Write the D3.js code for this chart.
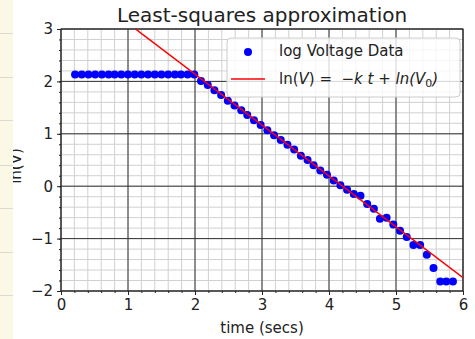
<!DOCTYPE html>
<html><head><meta charset="utf-8">
<script src="https://cdn.jsdelivr.net/npm/d3@7"></script>
<style>body{margin:0;background:#fff}svg{display:block}text{font-family:"DejaVu Sans",sans-serif}</style>
</head><body>
<script>
// ---- data ----
const timeSecs = [0.21,0.31,0.41,0.51,0.61,0.71,0.80,0.90,1.00,1.10,1.20,1.30,1.40,1.50,1.60,1.70,1.79,1.89,1.99,
  2.09,2.19,2.29,2.39,2.49,2.59,2.69,2.78,2.88,2.98,3.08,3.18,3.28,3.38,3.48,3.58,3.68,3.77,3.87,3.97,
  4.07,4.17,4.27,4.37,4.47,4.57,4.67,4.76,4.86,4.96,5.06,5.16,5.26,5.36,5.46,5.56,5.66,5.75,5.85];
const logVoltage = [2.13,2.13,2.13,2.13,2.13,2.13,2.13,2.13,2.13,2.13,2.13,2.13,2.13,2.13,2.13,2.13,2.13,2.13,2.13,
  2.01,1.93,1.83,1.74,1.63,1.54,1.45,1.36,1.26,1.17,1.07,0.97,0.88,0.79,0.70,0.58,0.50,0.40,0.30,0.22,
  0.11,0.02,-0.07,-0.15,-0.18,-0.34,-0.43,-0.62,-0.60,-0.73,-0.85,-0.97,-1.12,-1.12,-1.31,-1.56,-1.82,-1.82,-1.82];
const fitK = 0.971;      // slope of fitted line
const fitLnV0 = 4.08;    // intercept ln(V0)
const xTicks = [0,1,2,3,4,5,6];
const yTicks = [-2,-1,0,1,2,3];
const titleText = "Least-squares approximation";
const xLabel = "time (secs)";
const yLabel = "ln(V)";
const legendData = "log Voltage Data";

const W = 475, H = 339;
const svg = d3.select("body").append("svg").attr("width", W).attr("height", H);
const x = d3.scaleLinear().domain([0,6]).range([61,463]);
const y = d3.scaleLinear().domain([-2,3]).range([291,29]);

// y label (partially covered by left strip)
svg.append("text").attr("transform","translate(20.5,166) rotate(-90)")
  .attr("text-anchor","middle").attr("font-size",15).attr("fill","#222").text(yLabel);

// left beige strip from surrounding page
const strip = svg.append("g");
strip.append("rect").attr("x",0).attr("y",0).attr("width",13).attr("height",H).attr("fill","#fcf8e6");
[33,77,120,165,208,252,295].forEach(v=>strip.append("line").attr("x1",0).attr("x2",13).attr("y1",v+0.5).attr("y2",v+0.5).attr("stroke","#dcdad0"));

// grid
const minorX = d3.range(0,6.001,0.2), minorY = d3.range(-2,3.001,0.2);
const grid = svg.append("g");
minorX.forEach(v=>grid.append("line").attr("x1",x(v)).attr("x2",x(v)).attr("y1",y(-2)).attr("y2",y(3)).attr("stroke","#d0d0d0").attr("stroke-width",1));
minorY.forEach(v=>grid.append("line").attr("y1",y(v)).attr("y2",y(v)).attr("x1",x(0)).attr("x2",x(6)).attr("stroke","#d0d0d0").attr("stroke-width",1));
xTicks.forEach(v=>grid.append("line").attr("x1",x(v)).attr("x2",x(v)).attr("y1",y(-2)).attr("y2",y(3)).attr("stroke","#333").attr("stroke-width",1));
yTicks.forEach(v=>grid.append("line").attr("y1",y(v)).attr("y2",y(v)).attr("x1",x(0)).attr("x2",x(6)).attr("stroke","#333").attr("stroke-width",1));

// axes
const fmt = d => d < 0 ? "\u2212" + Math.abs(d) : String(d);
const xAxis = svg.append("g").attr("transform",`translate(0,${y(-2)})`)
  .call(d3.axisBottom(x).tickValues(xTicks).tickFormat(fmt).tickSize(4).tickPadding(4));
const yAxis = svg.append("g").attr("transform",`translate(${x(0)},0)`)
  .call(d3.axisLeft(y).tickValues(yTicks).tickFormat(fmt).tickSize(4).tickPadding(4));
svg.append("g").attr("transform",`translate(0,${y(-2)})`)
  .call(d3.axisBottom(x).tickValues(minorX).tickFormat("").tickSize(2)).select(".domain").remove();
svg.append("g").attr("transform",`translate(${x(0)},0)`)
  .call(d3.axisLeft(y).tickValues(minorY).tickFormat("").tickSize(2)).select(".domain").remove();
[xAxis,yAxis].forEach(a=>{a.selectAll("text").attr("font-size",15).attr("fill","#222").attr("font-family","DejaVu Sans");a.select(".domain").remove();});
svg.selectAll(".tick line").attr("stroke","#222");

// frame
svg.append("rect").attr("x",x(0)).attr("y",y(3)).attr("width",x(6)-x(0)).attr("height",y(-2)-y(3))
  .attr("fill","none").attr("stroke","#222").attr("stroke-width",1);

// clip
svg.append("clipPath").attr("id","clip").append("rect").attr("x",x(0)).attr("y",y(3)).attr("width",x(6)-x(0)).attr("height",y(-2)-y(3));
const plot = svg.append("g").attr("clip-path","url(#clip)");

plot.selectAll("circle").data(d3.zip(timeSecs,logVoltage)).join("circle")
  .attr("cx",d=>x(d[0])).attr("cy",d=>y(d[1])).attr("r",4).attr("fill","#0000ff");

const fitLine = d3.line().x(d=>x(d)).y(d=>y(fitLnV0 - fitK*d));
plot.append("path").attr("d",fitLine([0,6])).attr("stroke","#ff0000").attr("stroke-width",1.5).attr("fill","none");

// title & x label
svg.append("text").attr("x",(x(0)+x(6))/2).attr("y",22).attr("text-anchor","middle").attr("font-size",20).attr("fill","#222").text(titleText);
svg.append("text").attr("x",(x(0)+x(6))/2).attr("y",333).attr("text-anchor","middle").attr("font-size",15).attr("fill","#222").text(xLabel);

// legend
const lg = svg.append("g");
lg.append("rect").attr("x",227).attr("y",38).attr("width",233).attr("height",59).attr("rx",4)
  .attr("fill","#fff").attr("fill-opacity",0.8).attr("stroke","#ccc");
lg.append("circle").attr("cx",248).attr("cy",52).attr("r",4).attr("fill","#0000ff");
lg.append("text").attr("x",279).attr("y",56).attr("font-size",15).attr("fill","#222").text(legendData);
lg.append("line").attr("x1",231).attr("x2",265).attr("y1",79).attr("y2",79).attr("stroke","#ff0000").attr("stroke-width",1.5);
const t2 = lg.append("text").attr("x",279).attr("y",84).attr("font-size",15).attr("fill","#222");
t2.append("tspan").text("ln(");
t2.append("tspan").attr("font-style","italic").text("V");
t2.append("tspan").text(")\u00a0=\u00a0\u00a0\u2212");
t2.append("tspan").attr("font-style","italic").text("k\u00a0t");
t2.append("tspan").text("\u00a0+\u00a0");
t2.append("tspan").attr("font-style","italic").text("ln(V");
t2.append("tspan").attr("font-size",11).attr("dy",3).text("0");
t2.append("tspan").attr("font-style","italic").attr("dy",-3).text(")");
</script>
</body></html>
